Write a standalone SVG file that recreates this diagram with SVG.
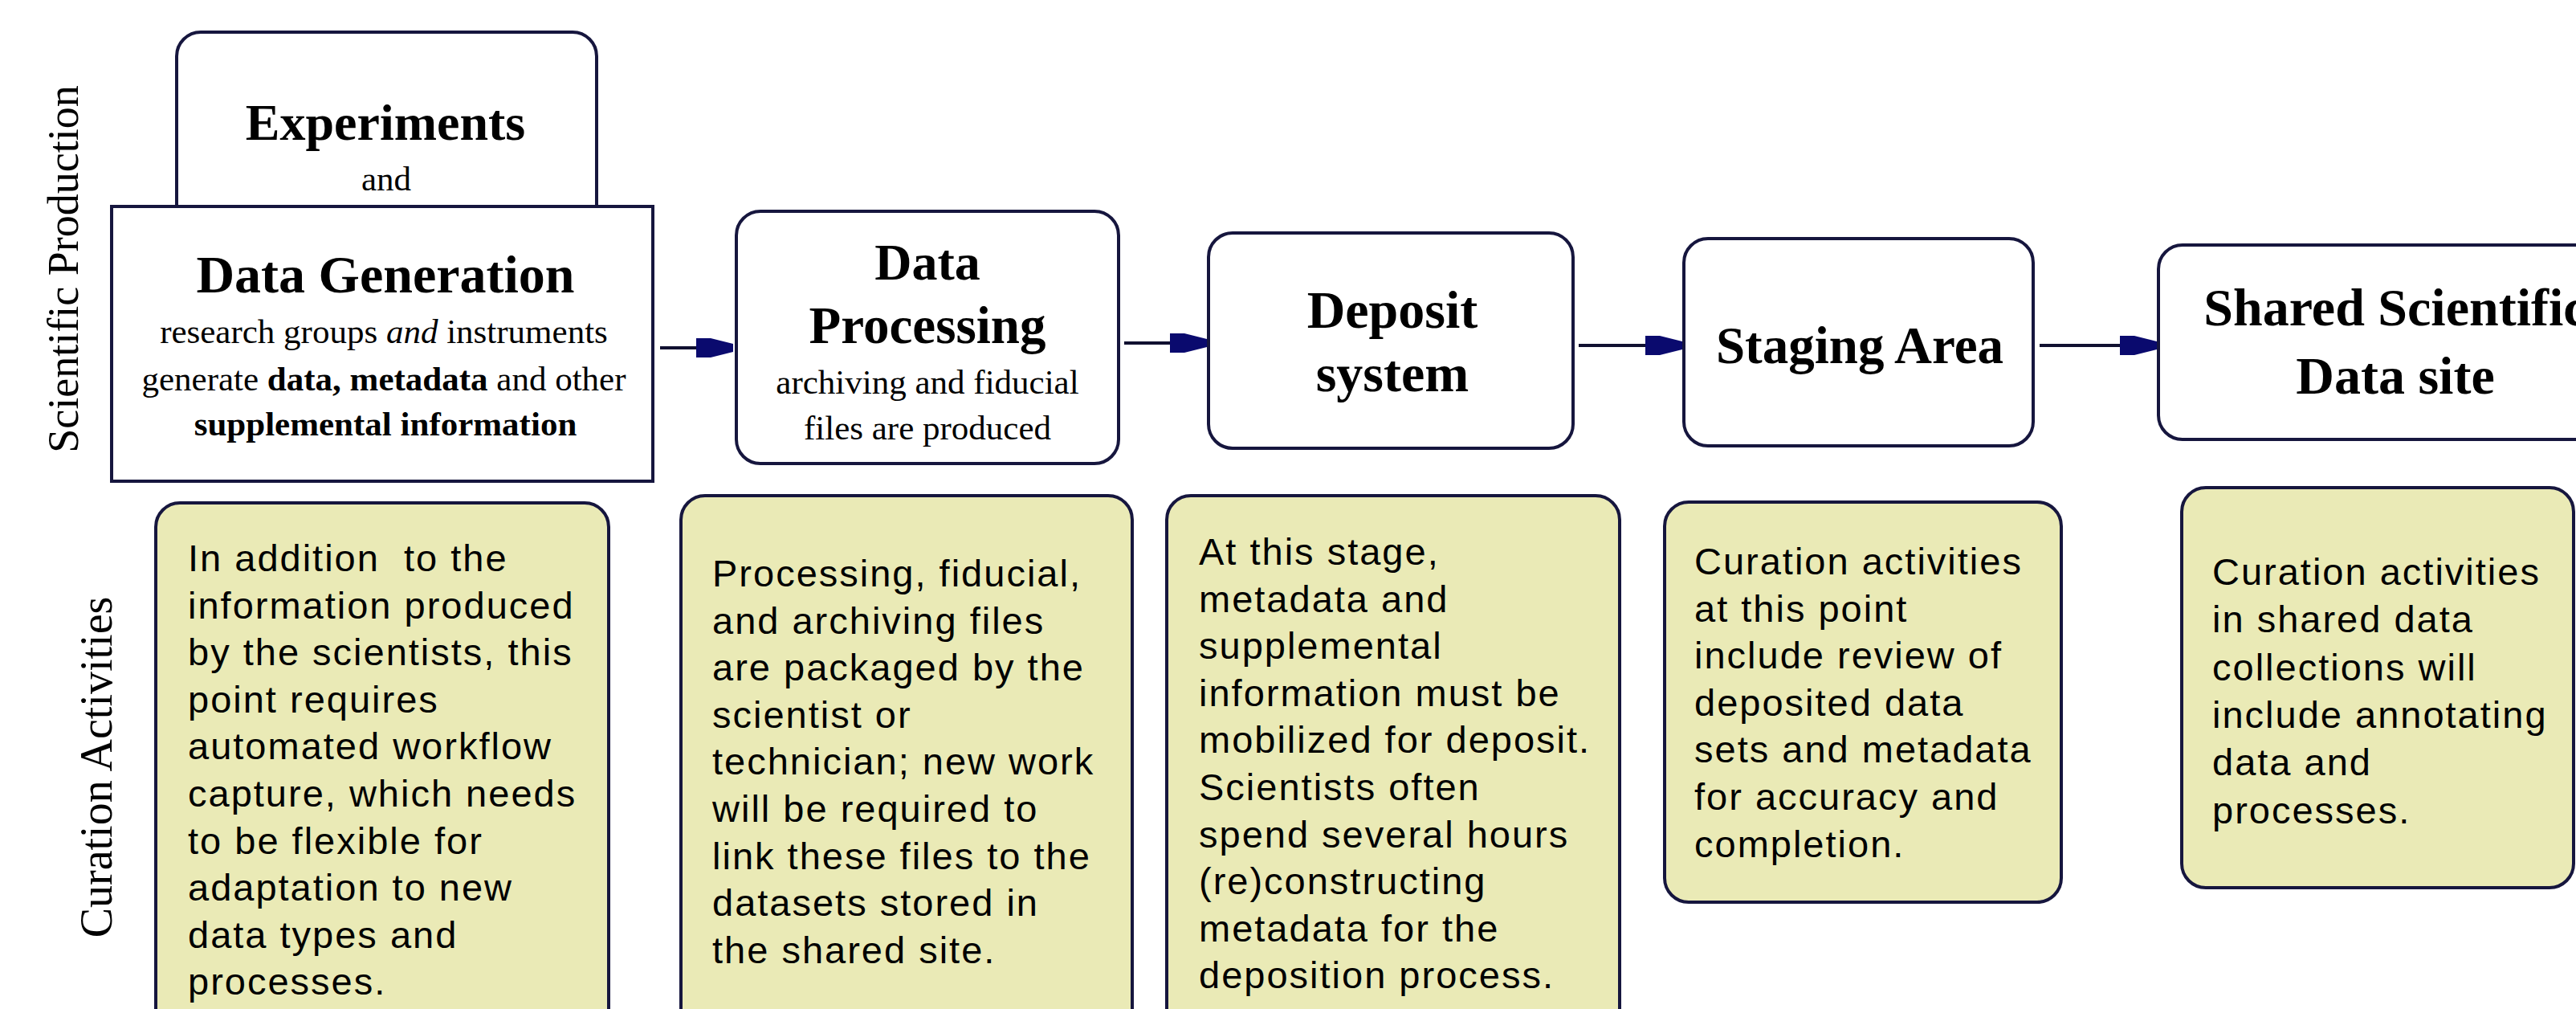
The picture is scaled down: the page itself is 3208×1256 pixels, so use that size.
<svg xmlns="http://www.w3.org/2000/svg" width="3208" height="1256" viewBox="0 0 3208 1256">
<style>
  .box { fill: #ffffff; stroke: #16163e; stroke-width: 4; }
  .note { fill: #eaeab6; stroke: #16163e; stroke-width: 4; }
  .conn { stroke: #101030; stroke-width: 4; fill: none; }
  .hd { font-family: "Liberation Serif", "Times New Roman", serif; font-weight: bold; fill: #000; text-anchor: middle; }
  .sub { font-family: "Liberation Serif", "Times New Roman", serif; fill: #000; text-anchor: middle; font-size: 43px; }
  .side { font-family: "Liberation Serif", "Times New Roman", serif; fill: #000; text-anchor: middle; }
  .body { font-family: "Liberation Sans", Arial, sans-serif; font-size: 47px; letter-spacing: 2px; fill: #000; white-space: pre; }
</style>
<defs>
  <marker id="ah" markerUnits="userSpaceOnUse" markerWidth="48" markerHeight="30" viewBox="0 -15 48 30" refX="46" refY="0" orient="auto">
    <path d="M0,-12 L0,12 L18,12 L46,5 L46,-5 L18,-12 Z" fill="#0a0a6e"/>
  </marker>
</defs>
<rect width="3208" height="1256" fill="#ffffff"/>

<g id="lane-labels">
  <text class="side" font-size="54" transform="translate(97,335) rotate(-90)">Scientific Production</text>
  <text class="side" font-size="56" transform="translate(139,955) rotate(-90)">Curation Activities</text>
</g>

<g id="experiments">
  <rect class="box" x="220" y="40" width="523" height="300" rx="30"/>
  <text class="hd" x="480" y="174" font-size="64">Experiments</text>
  <text class="sub" x="481" y="237" font-size="46">and</text>
</g>

<g id="data-generation">
  <rect class="box" x="139" y="257" width="674" height="342"/>
  <text class="hd" x="480" y="364" font-size="66">Data Generation</text>
  <text class="sub" x="478" y="427">research groups <tspan font-style="italic">and</tspan> instruments</text>
  <text class="sub" x="478" y="486">generate <tspan font-weight="bold">data, metadata</tspan> and other</text>
  <text class="sub" x="480" y="542" font-weight="bold" font-size="45">supplemental information</text>
</g>

<g id="data-processing">
  <rect class="box" x="917" y="263" width="476" height="314" rx="30"/>
  <text class="hd" x="1155" y="348" font-size="64">Data</text>
  <text class="hd" x="1155" y="427" font-size="65">Processing</text>
  <text class="sub" x="1155" y="490" font-size="42">archiving and fiducial</text>
  <text class="sub" x="1155" y="547" font-size="42">files are produced</text>
</g>

<g id="deposit-system">
  <rect class="box" x="1505" y="290" width="454" height="268" rx="30"/>
  <text class="hd" x="1734" y="408" font-size="66">Deposit</text>
  <text class="hd" x="1734" y="487" font-size="66">system</text>
</g>

<g id="staging-area">
  <rect class="box" x="2097" y="297" width="435" height="258" rx="30"/>
  <text class="hd" x="2316" y="452" font-size="65">Staging Area</text>
</g>

<g id="shared-site">
  <rect class="box" x="2688" y="305" width="600" height="242" rx="30"/>
  <text class="hd" x="2983" y="405" font-size="66">Shared Scientific</text>
  <text class="hd" x="2983" y="490" font-size="66">Data site</text>
</g>

<g id="connectors">
  <line class="conn" x1="822" y1="433" x2="913" y2="433" marker-end="url(#ah)"/>
  <line class="conn" x1="1400" y1="427" x2="1503" y2="427" marker-end="url(#ah)"/>
  <line class="conn" x1="1966" y1="430" x2="2095" y2="430" marker-end="url(#ah)"/>
  <line class="conn" x1="2540" y1="430" x2="2686" y2="430" marker-end="url(#ah)"/>
</g>

<g id="note-generation">
  <rect class="note" x="194" y="626" width="564" height="700" rx="30"/>
  <text class="body" x="234" y="711">In addition  to the</text>
  <text class="body" x="234" y="769.6">information produced</text>
  <text class="body" x="234" y="828.2">by the scientists, this</text>
  <text class="body" x="234" y="886.8">point requires</text>
  <text class="body" x="234" y="945.4">automated workflow</text>
  <text class="body" x="234" y="1004">capture, which needs</text>
  <text class="body" x="234" y="1062.6">to be flexible for</text>
  <text class="body" x="234" y="1121.2">adaptation to new</text>
  <text class="body" x="234" y="1179.8">data types and</text>
  <text class="body" x="234" y="1238.4">processes.</text>
</g>

<g id="note-processing">
  <rect class="note" x="848" y="617" width="562" height="700" rx="30"/>
  <text class="body" x="887" y="730">Processing, fiducial,</text>
  <text class="body" x="887" y="788.6">and archiving files</text>
  <text class="body" x="887" y="847.2">are packaged by the</text>
  <text class="body" x="887" y="905.8">scientist or</text>
  <text class="body" x="887" y="964.4">technician; new work</text>
  <text class="body" x="887" y="1023">will be required to</text>
  <text class="body" x="887" y="1081.6">link these files to the</text>
  <text class="body" x="887" y="1140.2">datasets stored in</text>
  <text class="body" x="887" y="1198.8">the shared site.</text>
</g>

<g id="note-deposit">
  <rect class="note" x="1453" y="617" width="564" height="700" rx="30"/>
  <text class="body" x="1493" y="703">At this stage,</text>
  <text class="body" x="1493" y="761.6">metadata and</text>
  <text class="body" x="1493" y="820.2">supplemental</text>
  <text class="body" x="1493" y="878.8">information must be</text>
  <text class="body" x="1493" y="937.4">mobilized for deposit.</text>
  <text class="body" x="1493" y="996">Scientists often</text>
  <text class="body" x="1493" y="1054.6">spend several hours</text>
  <text class="body" x="1493" y="1113.2">(re)constructing</text>
  <text class="body" x="1493" y="1171.8">metadata for the</text>
  <text class="body" x="1493" y="1230.4">deposition process.</text>
</g>

<g id="note-staging">
  <rect class="note" x="2073" y="625" width="494" height="498" rx="30"/>
  <text class="body" x="2110" y="715">Curation activities</text>
  <text class="body" x="2110" y="773.6">at this point</text>
  <text class="body" x="2110" y="832.2">include review of</text>
  <text class="body" x="2110" y="890.8">deposited data</text>
  <text class="body" x="2110" y="949.4">sets and metadata</text>
  <text class="body" x="2110" y="1008">for accuracy and</text>
  <text class="body" x="2110" y="1066.6">completion.</text>
</g>

<g id="note-shared">
  <rect class="note" x="2717" y="607" width="488" height="498" rx="30"/>
  <text class="body" x="2755" y="728">Curation activities</text>
  <text class="body" x="2755" y="787.3">in shared data</text>
  <text class="body" x="2755" y="846.6">collections will</text>
  <text class="body" x="2755" y="905.9">include annotating</text>
  <text class="body" x="2755" y="965.2">data and</text>
  <text class="body" x="2755" y="1024.5">processes.</text>
</g>
</svg>
